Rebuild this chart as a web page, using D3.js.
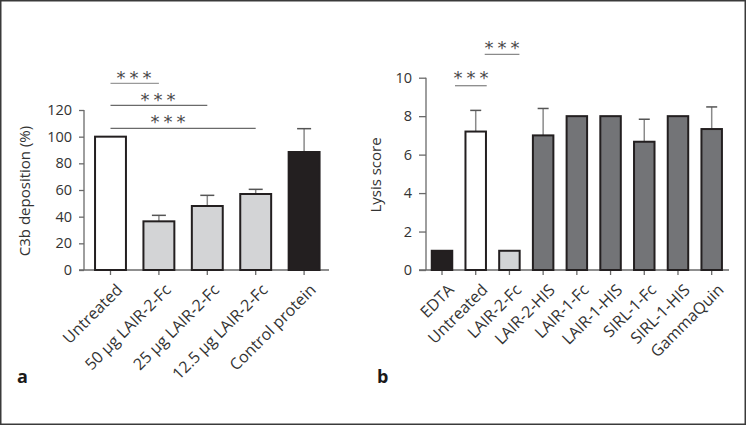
<!DOCTYPE html>
<html><head><meta charset="utf-8">
<script src="https://cdn.jsdelivr.net/npm/d3@7"></script>
<style>
html,body{margin:0;padding:0;background:#fff;}
svg{display:block;font-family:"Open Sans",sans-serif;}
</style></head>
<body>
<svg id="c" width="746" height="425"></svg>
<script>
// Panel a data
const catsA = ["Untreated","50 µg LAIR-2-Fc","25 µg LAIR-2-Fc","12.5 µg LAIR-2-Fc","Control protein"];
const valsA = [100, 36.5, 48, 57, 88.5];
const errA  = [0, 4.5, 8, 3.5, 17.5];
const fillA = ["#ffffff","#d3d4d6","#d3d4d6","#d3d4d6","#231f20"];
const ticksA = [0,20,40,60,80,100,120];
const sigA = [[0,1],[0,2],[0,3]];

// Panel b data
const catsB = ["EDTA","Untreated","LAIR-2-Fc","LAIR-2-HIS","LAIR-1-Fc","LAIR-1-HIS","SIRL-1-Fc","SIRL-1-HIS","GammaQuin"];
const valsB = [1, 7.2, 1, 7, 8, 8, 6.67, 8, 7.33];
const errB  = [0, 1.1, 0, 1.4, 0, 0, 1.17, 0, 1.15];
const fillB = ["#231f20","#ffffff","#d3d4d6","#737477","#737477","#737477","#737477","#737477","#737477"];
const ticksB = [0,2,4,6,8,10];

const svg = d3.select("#c");
svg.append("rect").attr("x",0.75).attr("y",0.75).attr("width",744.5).attr("height",423.5)
  .attr("fill","none").attr("stroke","#3a3a3a").attr("stroke-width",1.5);

const axisCol = "#6a6a6a", textCol = "#333333";

function panel(o){
  const g = svg.append("g");
  const x = d3.scaleBand().domain(o.cats).range([o.bx0, o.bx1]).paddingInner(o.pad).paddingOuter(o.padOut);
  const y = d3.scaleLinear().domain([0, o.ymax]).range([o.y0, o.y1]);
  // y axis
  const ya = g.append("g").attr("transform",`translate(${o.ax},0)`)
    .call(d3.axisLeft(y).tickValues(o.ticks).tickSize(o.tick).tickPadding(7));
  ya.select(".domain").attr("stroke",axisCol).attr("stroke-width",1.3).attr("d",`M0,${o.y0}V${o.y1}`);
  ya.selectAll(".tick line").attr("stroke",axisCol).attr("stroke-width",1.3);
  ya.selectAll(".tick text").attr("fill",textCol).style("font-size","14.5px").style("font-family","Open Sans");
  // x axis
  const xa = g.append("g").attr("transform",`translate(0,${o.y0})`)
    .call(d3.axisBottom(x).tickSize(5).tickFormat(""));
  xa.select(".domain").attr("stroke",axisCol).attr("stroke-width",1.3).attr("d",`M${o.ax-o.tick},0H${o.xEnd}`);
  xa.selectAll(".tick line").attr("stroke",axisCol).attr("stroke-width",1.3);
  // labels
  g.selectAll(".xl").data(o.cats).enter().append("text")
    .attr("transform",d=>`translate(${x(d)+x.bandwidth()/2+5},${o.y0+13}) rotate(-45)`)
    .attr("text-anchor","end").attr("dy","0.7em")
    .attr("fill",textCol).style("font-size","16px").text(d=>d);
  const bw = x.bandwidth();
  // error bars
  o.cats.forEach((c,i)=>{
    if(o.err[i]>0){
      const cx = x(c)+bw/2;
      g.append("line").attr("x1",cx).attr("x2",cx).attr("y1",y(o.vals[i])).attr("y2",y(o.vals[i]+o.err[i]))
        .attr("stroke","#8a8a8a").attr("stroke-width",1.5);
      g.append("line").attr("x1",cx-o.cap).attr("x2",cx+o.cap).attr("y1",y(o.vals[i]+o.err[i])).attr("y2",y(o.vals[i]+o.err[i]))
        .attr("stroke","#555").attr("stroke-width",1.5);
    }
  });
  // bars
  g.selectAll(".bar").data(o.cats).enter().append("rect")
    .attr("x",d=>x(d)+1).attr("width",bw-2)
    .attr("y",(d,i)=>y(o.vals[i])).attr("height",(d,i)=>o.y0-y(o.vals[i]))
    .attr("fill",(d,i)=>o.fills[i]).attr("stroke","#231f20").attr("stroke-width",2);
  // y title
  g.append("text").attr("transform",`translate(${o.titleX},${o.titleY}) rotate(-90)`)
    .attr("text-anchor","middle").attr("fill",textCol).style("font-size","15px").text(o.title);
  // panel label
  g.append("text").attr("x",o.lx).attr("y",383).attr("fill","#1a1a1a")
    .style("font-size","18px").style("font-weight","bold").text(o.label);
  return {x,y,bw};
}

const A = panel({cats:catsA, vals:valsA, err:errA, fills:fillA, ticks:ticksA, ymax:120,
  ax:84, tick:5, bx0:80, bx1:334.6, xEnd:329, y0:270, y1:110, pad:0.32, padOut:0.29, cap:7,
  title:"C3b deposition (%)", titleX:30, titleY:191, label:"a", lx:17});
const B = panel({cats:catsB, vals:valsB, err:errB, fills:fillB, ticks:ticksB, ymax:10,
  ax:426, tick:7, bx0:419, bx1:734.7, xEnd:729, y0:270, y1:77.7, pad:0.333, padOut:0.349, cap:5.5,
  title:"Lysis score", titleX:381, titleY:175, label:"b", lx:377});

// significance
function sig(xa, xb, yl, sx, sy, col){
  svg.append("line").attr("x1",xa).attr("x2",xb).attr("y1",yl).attr("y2",yl)
    .attr("stroke",col).attr("stroke-width",1.3);
  svg.append("text").attr("x",sx).attr("y",sy).attr("text-anchor","middle")
    .attr("fill","#4a4a4a").style("font-family","DejaVu Sans").style("font-size","18px")
    .style("letter-spacing","4px").text("***");
}
const cA = d => A.x(d)+A.bw/2;
const yA = [83.3,105.3,128.3];
const sA = [[136,84],[160,105.5],[170,128]];
sigA.forEach((p,i)=>sig(cA(catsA[p[0]]), cA(catsA[p[1]]), yA[i], sA[i][0], sA[i][1], i===0?"#9a9a9a":"#6a6a6a"));
const cB = d => B.x(d)+B.bw/2;
sig(cB(catsB[0])+13, cB(catsB[1])+11, 85.7, 473, 84, "#8a8a8a");
sig(cB(catsB[1])+9, cB(catsB[2])+10, 54.3, 504, 54, "#8a8a8a");
</script>
</body></html>
